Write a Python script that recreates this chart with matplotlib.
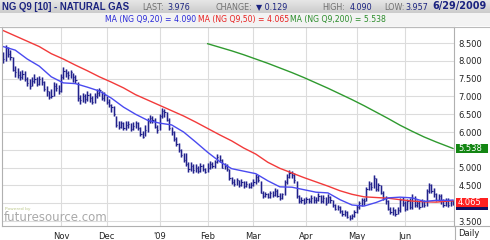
import numpy as np
import pandas as pd
import matplotlib
matplotlib.use("Agg")
import matplotlib.pyplot as plt
import matplotlib.transforms as mtransforms
from matplotlib.patches import Rectangle

# trading days shown on the chart (NYMEX holidays removed)
holidays = ["2008-11-27", "2008-12-25", "2009-01-01", "2009-01-19",
            "2009-02-16", "2009-04-10", "2009-05-25"]
days = pd.bdate_range("2008-09-30", "2009-06-29")
days = days[~days.isin(pd.to_datetime(holidays))]

close = [8.05, 8.35, 8.20, 8.12, 7.75, 7.68, 7.60, 7.55, 7.62, 7.50,
         7.38, 7.30, 7.42, 7.50, 7.35, 7.48, 7.40, 7.20, 7.15, 6.98,
         7.02, 7.30, 7.25, 7.15, 7.55, 7.72, 7.65, 7.60, 7.68, 7.55,
         7.45, 6.95, 6.90, 7.00, 6.92, 7.05, 6.95, 6.85, 7.00, 7.10,
         7.18, 6.95, 7.05, 6.85, 6.75, 6.70, 6.50, 6.20, 6.15, 6.25,
         6.10, 6.20, 6.22, 6.08, 6.18, 6.25, 6.12, 5.95, 5.85, 6.05,
         6.30, 6.40, 6.35, 6.15, 6.05, 6.45, 6.60, 6.55, 6.35, 6.10,
         6.00, 5.80, 5.65, 5.50, 5.35, 5.22, 5.10, 4.95, 5.05, 4.92,
         5.00, 4.90, 5.05, 4.95, 4.88, 5.00, 5.10, 5.05, 5.15, 5.30,
         5.20, 5.00, 5.05, 4.95, 4.70, 4.60, 4.55, 4.65, 4.50, 4.60,
         4.48, 4.55, 4.45, 4.52, 4.60, 4.75, 4.65, 4.30, 4.20, 4.25,
         4.18, 4.28, 4.22, 4.35, 4.20, 4.15, 4.25, 4.60, 4.75, 4.85,
         4.80, 4.65, 4.20, 4.05, 4.10, 4.02, 4.12, 4.05, 4.15, 4.08,
         4.10, 4.20, 4.05, 4.15, 4.00, 4.18, 4.10, 3.95, 3.85, 3.90,
         3.78, 3.70, 3.75, 3.62, 3.58, 3.65, 3.75, 3.90, 4.00, 4.10,
         4.05, 4.40, 4.55, 4.45, 4.70, 4.40, 4.50, 4.30, 4.15, 4.05,
         3.85, 3.75, 3.80, 3.70, 3.80, 4.10, 4.00, 3.85, 4.05, 3.90,
         4.15, 3.95, 4.00, 3.90, 4.05, 3.95, 4.35, 4.50, 4.35, 4.25,
         4.10, 4.20, 4.05, 3.95, 4.10, 3.95, 4.05, 3.976]

high = [8.25, 8.45, 8.40, 8.30, 8.10, 7.85, 7.80, 7.72, 7.75, 7.70,
        7.55, 7.48, 7.55, 7.62, 7.55, 7.58, 7.55, 7.42, 7.28, 7.15,
        7.22, 7.40, 7.38, 7.32, 7.62, 7.82, 7.78, 7.72, 7.75, 7.65,
        7.60, 7.40, 7.05, 7.10, 7.08, 7.15, 7.10, 7.00, 7.10, 7.20,
        7.25, 7.15, 7.12, 7.00, 6.92, 6.80, 6.72, 6.45, 6.30, 6.32,
        6.28, 6.30, 6.30, 6.25, 6.28, 6.32, 6.28, 6.15, 6.02, 6.20,
        6.38, 6.48, 6.45, 6.38, 6.20, 6.50, 6.68, 6.65, 6.55, 6.38,
        6.15, 6.02, 5.85, 5.70, 5.52, 5.42, 5.40, 5.15, 5.15, 5.10,
        5.10, 5.05, 5.12, 5.10, 5.00, 5.12, 5.18, 5.15, 5.22, 5.38,
        5.35, 5.25, 5.12, 5.10, 4.95, 4.75, 4.68, 4.72, 4.65, 4.68,
        4.62, 4.62, 4.58, 4.60, 4.68, 4.82, 4.78, 4.62, 4.35, 4.32,
        4.30, 4.35, 4.35, 4.42, 4.40, 4.28, 4.30, 4.65, 4.82, 4.92,
        4.90, 4.85, 4.62, 4.22, 4.18, 4.15, 4.18, 4.15, 4.22, 4.20,
        4.18, 4.28, 4.22, 4.22, 4.18, 4.25, 4.20, 4.10, 3.98, 3.95,
        3.92, 3.82, 3.80, 3.78, 3.68, 3.70, 3.80, 3.95, 4.05, 4.15,
        4.15, 4.45, 4.62, 4.60, 4.80, 4.72, 4.58, 4.52, 4.35, 4.20,
        4.10, 3.90, 3.88, 3.85, 3.88, 4.15, 4.18, 4.05, 4.12, 4.15,
        4.25, 4.20, 4.10, 4.05, 4.12, 4.10, 4.40, 4.58, 4.55, 4.42,
        4.30, 4.25, 4.25, 4.12, 4.15, 4.15, 4.10, 4.09]

low = [7.95, 8.00, 8.12, 8.02, 7.70, 7.55, 7.52, 7.45, 7.48, 7.42,
       7.30, 7.22, 7.28, 7.38, 7.30, 7.32, 7.32, 7.15, 7.00, 6.92,
       6.95, 7.00, 7.15, 7.08, 7.12, 7.50, 7.55, 7.50, 7.52, 7.40,
       7.38, 6.88, 6.80, 6.85, 6.82, 6.88, 6.85, 6.78, 6.82, 6.95,
       7.02, 6.90, 6.88, 6.78, 6.70, 6.55, 6.45, 6.15, 6.08, 6.10,
       6.05, 6.05, 6.10, 6.02, 6.05, 6.12, 6.05, 5.90, 5.82, 5.88,
       6.00, 6.25, 6.25, 6.10, 5.98, 6.05, 6.40, 6.42, 6.30, 6.05,
       5.92, 5.75, 5.60, 5.45, 5.30, 5.15, 5.05, 4.88, 4.90, 4.85,
       4.88, 4.85, 4.88, 4.90, 4.85, 4.88, 4.95, 5.00, 5.00, 5.12,
       5.15, 4.98, 4.95, 4.90, 4.65, 4.55, 4.48, 4.50, 4.45, 4.48,
       4.42, 4.45, 4.42, 4.42, 4.48, 4.55, 4.60, 4.28, 4.15, 4.18,
       4.15, 4.15, 4.18, 4.20, 4.18, 4.10, 4.12, 4.22, 4.55, 4.72,
       4.70, 4.58, 4.15, 4.00, 4.02, 3.98, 4.00, 4.00, 4.02, 4.02,
       4.02, 4.05, 4.00, 4.02, 3.95, 4.02, 4.02, 3.90, 3.80, 3.82,
       3.72, 3.65, 3.65, 3.58, 3.54, 3.56, 3.62, 3.72, 3.85, 3.92,
       3.95, 4.05, 4.38, 4.38, 4.42, 4.35, 4.35, 4.25, 4.10, 3.98,
       3.80, 3.70, 3.68, 3.65, 3.70, 3.75, 3.92, 3.78, 3.80, 3.85,
       3.85, 3.90, 3.88, 3.85, 3.88, 3.90, 3.92, 4.30, 4.28, 4.18,
       4.05, 4.05, 3.98, 3.90, 3.92, 3.90, 3.92, 3.957]

ma_bars = list(range(0, 186, 5)) + [187]
ma20 = [8.40, 8.30, 8.05, 7.85, 7.55, 7.38, 7.36, 7.26, 7.15, 6.95,
        6.70, 6.50, 6.33, 6.25, 6.20, 6.00, 5.72, 5.43, 5.17, 4.97,
        4.90, 4.83, 4.63, 4.46, 4.45, 4.38, 4.31, 4.29, 4.10, 3.95,
        3.92, 4.02, 4.15, 4.17, 4.15, 4.05, 4.08, 4.08, 4.09]
ma50 = [8.85, 8.70, 8.55, 8.40, 8.20, 8.05, 7.88, 7.72, 7.55, 7.40,
        7.24, 7.05, 6.90, 6.75, 6.60, 6.45, 6.28, 6.10, 5.92, 5.75,
        5.55, 5.38, 5.15, 4.98, 4.85, 4.72, 4.60, 4.48, 4.35, 4.25,
        4.18, 4.16, 4.14, 4.10, 4.06, 4.04, 4.03, 4.06, 4.065]
ma200_bars = list(range(85, 186, 5)) + [187]
ma200 = [8.48, 8.38, 8.28, 8.17, 8.05, 7.93, 7.80, 7.67, 7.53, 7.38,
         7.23, 7.07, 6.91, 6.74, 6.56, 6.38, 6.19, 6.02, 5.86, 5.72,
         5.59, 5.538]

month_labels = ["Nov", "Dec", "'09", "Feb", "Mar", "Apr", "May", "Jun"]

W, H = 490, 240
NAVY = "#1b2380"
fig = plt.figure(figsize=(W / 100, H / 100), dpi=100)
fig.patch.set_facecolor("white")

def px(x, y):
    return x / W, 1 - y / H

# header strips
hdr = fig.add_axes([0, 1 - 13 / H, 1, 13 / H])
hdr.imshow(np.linspace(0.90, 0.80, 20).reshape(-1, 1), cmap="gray",
           vmin=0, vmax=1, aspect="auto", extent=[0, 1, 0, 1])
hdr.axis("off")
fig.patches.append(Rectangle(px(0, 26), 1, 13 / H, transform=fig.transFigure,
                             fc="#f3f3f3", ec="none", zorder=0))
fig.add_artist(plt.Line2D([0, 1], [1 - 26.5 / H] * 2, color="#bbbbbb", lw=0.8))

def htext(x, y, s, color, size=5.8, weight="normal", ha="left", family="DejaVu Sans"):
    fig.text(*px(x, y), s, color=color, fontsize=size, fontweight=weight,
             ha=ha, va="center", family=family)

htext(2, 6.5, "NG Q9 [10] - NATURAL GAS", NAVY, size=6.9, weight="bold",
      family="Liberation Sans")
htext(142, 7, "LAST:", "#707070")
htext(190, 7, "3.976", NAVY, ha="right")
htext(215, 7, "CHANGE:", "#707070")
htext(287, 7, "\u25bc 0.129", NAVY, ha="right")
htext(322, 7, "HIGH:", "#707070")
htext(372, 7, "4.090", NAVY, ha="right")
htext(384, 7, "LOW:", "#707070")
htext(428, 7, "3.957", NAVY, ha="right")
htext(487, 6.5, "6/29/2009", NAVY, size=7, weight="bold", ha="right")
htext(105, 19.5, "MA (NG Q9,20) = 4.090", "#2828d8", size=5.6)
htext(198, 19.5, "MA (NG Q9,50) = 4.065", "#e82222", size=5.6)
htext(290, 19.5, "MA (NG Q9,200) = 5.538", "#2a8c2a", size=5.6)

# main panel
ax = fig.add_axes([2 / W, 14 / H, 452 / W, 199 / H])
x = np.arange(len(close))
ax.set_xlim(-0.5, 187.4)
ax.set_ylim(3.36, 8.95)
ax.set_axisbelow(True)

ax.vlines(x, low, high, color="#9090d0", lw=1.8, alpha=0.5)
ax.vlines(x, low, high, color="#22228a", lw=0.9)
ax.hlines(close, x, x + 0.5, color="#22228a", lw=0.8)

ax.plot(ma_bars, ma50, color="#f23a3a", lw=1.0)
ax.plot(ma_bars, ma20, color="#4a4af0", lw=1.0)
ax.plot(ma200_bars, ma200, color="#2f9a2f", lw=1.0)

month_pos = [i for i in range(1, len(days)) if days[i].month != days[i - 1].month]
month_pos = [p for p in month_pos if days[p].month != 10]
ax.set_xticks(month_pos)
ax.set_xticklabels(month_labels)
yticks = np.arange(3.5, 8.51, 0.5)
ax.set_yticks(yticks)
# 4.000 and 5.500 sit under the last-value boxes
ax.set_yticklabels(["" if t in (4.0, 5.5) else "%.3f" % t for t in yticks])
ax.yaxis.tick_right()
ax.tick_params(length=0, labelsize=6, labelcolor="#222222")
ax.tick_params(axis="x", pad=4)
ax.tick_params(axis="y", pad=3)
ax.grid(True, color="#dcdcdc", lw=0.8)
for s in ax.spines.values():
    s.set_color("#b0b0b0")
    s.set_linewidth(0.8)

# bottom strip and right column borders
fig.add_artist(plt.Line2D([454 / W, 1], [14 / H] * 2, color="#b0b0b0", lw=0.8))
fig.add_artist(plt.Line2D([454.5 / W] * 2, [0, 14 / H], color="#b0b0b0", lw=0.8))
fig.text(*px(469, 233), "Daily", fontsize=6, color="#222222", ha="center", va="center")

# last value boxes on the price scale (last price box mostly hidden)
trans = mtransforms.blended_transform_factory(ax.transAxes, ax.transData)
half = 4.6 / 35.6
for val, txt, fc in [(3.93, "", "#101060"), (4.03, "4.065", "#ff2020"),
                     (5.538, "5.538", "#138613")]:
    ax.add_patch(Rectangle((1 + 2 / 452, val - half), 32 / 452, 2 * half,
                           transform=trans, fc=fc, ec="none", clip_on=False, zorder=6))
    if txt:
        ax.text(1 + 4 / 452, val, txt, transform=trans, color="white", fontsize=6,
                ha="left", va="center", zorder=7, clip_on=False)

# watermark
fig.text(*px(5, 209), "Powered by", fontsize=3.2, color="#bcc88c", va="center")
fig.text(*px(4, 217.5), "futuresource.com", fontsize=8.5, color="#a9a9a9", va="center")

fig.savefig("out.png", dpi=100)
